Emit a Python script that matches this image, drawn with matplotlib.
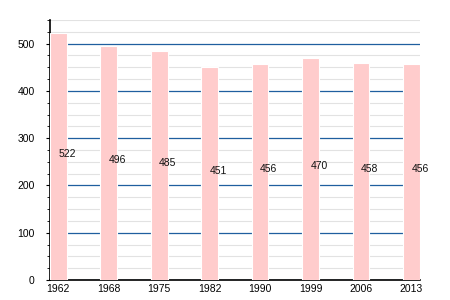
import matplotlib
matplotlib.use("Agg")
import matplotlib.pyplot as plt
from matplotlib.ticker import MultipleLocator

years = ["1962", "1968", "1975", "1982", "1990", "1999", "2006", "2013"]
population = [522, 496, 485, 451, 456, 470, 458, 456]

plt.rcParams['font.family'] = ['Liberation Sans', 'DejaVu Sans']

fig = plt.figure(figsize=(4.5, 3), dpi=100)
ax = fig.add_axes([0.111, 0.0667, 0.822, 0.8667])

w = 0.33
x = list(range(len(years)))
ax.bar(x, population, width=w, color='#ffcccc', edgecolor='white', linewidth=0.8, zorder=3)
for xi, v in zip(x, population):
    ax.text(xi, v / 2 + 6, str(v), ha='left', va='center', fontsize=7.5, color='#111111', zorder=4)

ax.set_xlim(-w / 2, len(years) - 1 + w / 2)
ax.set_ylim(0, 550)
ax.yaxis.set_major_locator(MultipleLocator(100))
ax.yaxis.set_minor_locator(MultipleLocator(25))
ax.grid(which='minor', axis='y', color='#e2e2e2', linewidth=0.8, zorder=1)
ax.grid(which='major', axis='y', color='#1f5f9f', linewidth=0.9, zorder=2)
ax.set_xticks(x)
ax.set_xticklabels(years)
ax.tick_params(axis='x', length=0, labelsize=7.5, pad=3)
ax.tick_params(axis='y', which='major', length=3, width=0.8, labelsize=7.5, pad=8)
ax.tick_params(axis='y', which='minor', length=2, width=0.6)
for s in ['top', 'right']:
    ax.spines[s].set_visible(False)
ax.spines['left'].set_linewidth(1.2)
ax.spines['bottom'].set_linewidth(1.2)

fig.savefig("out.png", dpi=100)
